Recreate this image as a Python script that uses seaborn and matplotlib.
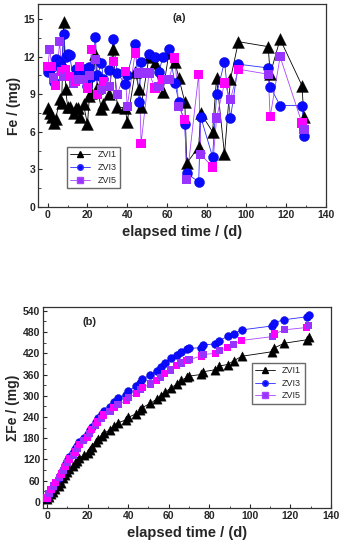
import numpy as np
import pandas as pd
import matplotlib
matplotlib.use('Agg')
import matplotlib.pyplot as plt
from matplotlib.lines import Line2D
from matplotlib.ticker import MultipleLocator
import seaborn as sns

# sampling days (elapsed time / d)
days = [0, 1, 2, 3, 4, 6, 7, 8, 9, 10, 11, 13, 14, 15, 16, 18, 20, 21, 22, 24,
        25, 27, 28, 31, 33, 35, 39, 40, 44, 46, 47, 51, 54, 56, 58, 61, 64, 66, 69, 70,
        76, 77, 83, 85, 89, 92, 96, 111, 112, 117, 128, 129]

# Fe released per sampling (mg)
fe_zvi1 = [7.9, 7.5, 7.2, 6.7, 7.0, 8.6, 8.3, 14.8, 9.4, 8.0, 8.0, 7.5, 7.9, 7.9, 7.2, 8.2, 6.6, 8.9, 9.1, 12.2,
           9.5, 7.8, 8.2, 9.0, 12.6, 8.0, 7.9, 6.8, 10.8, 9.4, 8.0, 12.0, 11.5, 9.8, 9.2, 12.3, 11.6, 10.3, 8.4, 3.5,
           4.8, 7.5, 6.0, 10.3, 4.2, 10.2, 13.2, 12.8, 10.6, 13.4, 9.7, 7.2]
fe_zvi3 = [10.8, 11.0, 11.2, 10.0, 11.8, 11.6, 11.2, 13.8, 12.0, 12.2, 12.1, 10.2, 11.0, 10.6, 10.8, 11.0, 9.7, 11.2, 10.4, 13.6,
           10.5, 11.5, 10.2, 10.9, 13.4, 10.7, 9.8, 10.5, 13.0, 8.4, 11.6, 12.2, 12.0, 10.8, 12.0, 12.6, 9.9, 8.4, 6.6, 2.7,
           2.0, 7.2, 4.0, 9.0, 11.6, 7.1, 11.4, 11.1, 9.6, 8.1, 8.1, 5.7]
fe_zvi5 = [11.2, 12.6, 11.2, 10.3, 9.7, 13.2, 10.8, 10.4, 11.0, 10.4, 10.4, 9.9, 10.0, 10.2, 11.2, 10.2, 9.5, 10.5, 12.6, 11.8,
           9.0, 9.4, 10.0, 9.6, 11.6, 9.0, 10.8, 8.0, 12.3, 10.7, 5.1, 10.7, 9.5, 9.6, 10.2, 10.2, 11.9, 8.0, 7.0, 2.2,
           10.6, 4.2, 3.2, 7.1, 9.9, 8.6, 11.0, 10.6, 7.2, 12.0, 6.7, 6.2]

df = pd.DataFrame({'t': days, 'ZVI1': fe_zvi1, 'ZVI3': fe_zvi3, 'ZVI5': fe_zvi5})
# cumulative Fe
cum = df[['ZVI1', 'ZVI3', 'ZVI5']].cumsum()
cum['t'] = df['t']

sns.set_theme(style='ticks')
plt.rcParams['font.family'] = ['Liberation Sans', 'DejaVu Sans']
plt.rcParams['font.weight'] = 'bold'

fig = plt.figure(figsize=(3.44, 5.5), dpi=100)
ax1 = fig.add_axes([0.110, 0.6236, 0.837, 0.369])
ax2 = fig.add_axes([0.125, 0.0764, 0.837, 0.3655])

purple = '#9933ff'
magenta = '#ff00ff'
sq_cols = [magenta if i % 2 == 0 else purple for i in range(len(days))]


def draw(ax, data, ms):
    sns.lineplot(data=data, x='t', y='ZVI1', ax=ax, color='black', lw=0.6, sort=False)
    sns.lineplot(data=data, x='t', y='ZVI3', ax=ax, color='#2b2bff', lw=0.6, sort=False)
    sns.lineplot(data=data, x='t', y='ZVI5', ax=ax, color='#aa44ff', lw=0.6, sort=False)
    sns.scatterplot(data=data, x='t', y='ZVI1', ax=ax, marker='^', s=ms * 1.4,
                    color='black', edgecolor='black', linewidth=0.3, zorder=3)
    sns.scatterplot(data=data, x='t', y='ZVI3', ax=ax, marker='o', s=ms,
                    color='#0a0aff', edgecolor='#0000cc', linewidth=0.3, zorder=4)
    ax.scatter(data['t'], data['ZVI5'], marker='s', s=ms * 0.85, c=sq_cols,
               edgecolors='none', zorder=5)


draw(ax1, df, 52)
draw(ax2, cum, 32)

handles = [Line2D([], [], color='black', marker='^', ms=4, lw=0.6, label='ZVI1'),
           Line2D([], [], color='#2b2bff', marker='o', ms=4, mfc='#0a0aff', lw=0.6, label='ZVI3'),
           Line2D([], [], color='#aa44ff', marker='s', ms=4, mfc=purple, lw=0.6, label='ZVI5')]

# top panel
ax1.set_xlim(-5, 140)
ax1.set_ylim(0, 16.2)
ax1.yaxis.set_major_locator(MultipleLocator(3))
ax1.yaxis.set_minor_locator(MultipleLocator(1.5))
ax1.set_ylabel('Fe / (mg)', fontsize=10, fontweight='bold', labelpad=2)
ax1.text(0.49, 0.93, '(a)', transform=ax1.transAxes, fontsize=8, fontweight='bold', ha='center', va='center')
ax1.legend(handles=handles, loc='lower left', bbox_to_anchor=(0.085, 0.07),
           frameon=True, fancybox=False, edgecolor='#444444', handlelength=2.2,
           borderpad=0.4, labelspacing=0.4, prop={'size': 6.5, 'weight': 'normal'})

# bottom panel
ax2.set_xlim(-2, 140)
ax2.set_ylim(-17, 551)
ax2.yaxis.set_major_locator(MultipleLocator(60))
ax2.yaxis.set_minor_locator(MultipleLocator(30))
ax2.set_ylabel('\u03a3Fe / (mg)', fontsize=10, fontweight='bold', labelpad=2)
ax2.text(0.16, 0.925, '(b)', transform=ax2.transAxes, fontsize=8, fontweight='bold', ha='center', va='center')
ax2.legend(handles=handles, loc='lower right', bbox_to_anchor=(0.925, 0.495),
           frameon=True, fancybox=False, edgecolor='#444444', handlelength=2.2,
           borderpad=0.4, labelspacing=0.4, prop={'size': 6.5, 'weight': 'normal'})

for ax in (ax1, ax2):
    ax.xaxis.set_major_locator(MultipleLocator(20))
    ax.xaxis.set_minor_locator(MultipleLocator(10))
    ax.set_xlabel('elapsed time / (d)', fontsize=10.5, fontweight='bold', labelpad=4)
    ax.tick_params(which='both', direction='in', top=False, right=False, labelsize=7.5, pad=2)
    ax.tick_params(which='major', length=3, width=0.8)
    ax.tick_params(which='minor', length=1.8, width=0.6)
    for lab in ax.get_xticklabels() + ax.get_yticklabels():
        lab.set_fontweight('bold')
    for sp in ax.spines.values():
        sp.set_visible(True)
        sp.set_linewidth(0.9)
        sp.set_color('#333333')

fig.savefig('out.png', dpi=100)
